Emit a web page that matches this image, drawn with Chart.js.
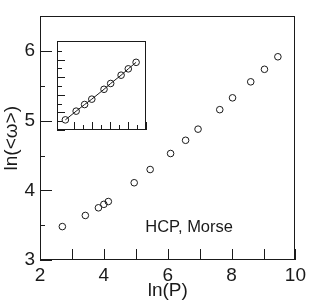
<!DOCTYPE html>
<html>
<head>
<meta charset="utf-8">
<script src="https://cdn.jsdelivr.net/npm/chart.js@4/dist/chart.umd.min.js"></script>
<style>
  html, body { margin: 0; padding: 0; background: #fff; }
  #wrap { position: relative; width: 310px; height: 308px; }
  #mainChart { position: absolute; left: 0; top: 0; }
  #insetChart { position: absolute; left: 52px; top: 36px; background: #fff; }
</style>
</head>
<body>
<div id="wrap">
  <canvas id="mainChart" width="310" height="308"></canvas>
  <canvas id="insetChart" width="99" height="99"></canvas>
</div>
<script>
// main panel: ln(<w>) vs ln(P)
const lnP = [2.70, 3.42, 3.83, 4.00, 4.14, 4.95, 5.45, 6.09, 6.56, 6.95, 7.63, 8.03, 8.60, 9.03, 9.45];
const lnW = [3.48, 3.64, 3.75, 3.80, 3.84, 4.11, 4.30, 4.53, 4.72, 4.88, 5.16, 5.33, 5.56, 5.74, 5.92];

// inset (no tick labels, arbitrary units read off the tick marks)
const insetX = [1.03, 2.23, 3.17, 3.97, 5.33, 6.07, 7.23, 8.03, 8.90];
const insetY = [1.15, 2.14, 2.89, 3.50, 4.62, 5.28, 6.22, 6.94, 7.68];

const xTitle = "ln(P)";
const yTitle = "ln(<ω>)";
const noteText = "HCP, Morse";

const FONT = "'Liberation Sans', Arial, Helvetica, sans-serif";
const INK = "#1a1a1a";

function toPoints(xs, ys) {
    let pts = [];
    for (let i = 0; i < xs.length; i++) {
        pts.push({ x: xs[i], y: ys[i] });
    }
    return pts;
}

// frame + inward ticks, drawn from the scales
function frameTicks(opts) {
    return {
        id: "frameTicks",
        afterDraw(chart) {
            const c = chart.ctx;
            const a = chart.chartArea;
            const xs = chart.scales.x;
            const ys = chart.scales.y;
            c.save();
            c.strokeStyle = INK;
            c.lineWidth = 1;
            c.strokeRect(Math.round(a.left) + 0.5, Math.round(a.top) + 0.5,
                Math.round(a.right - a.left) - 1, Math.round(a.bottom - a.top) - 1);
            c.beginPath();
            xs.ticks.forEach(t => {
                const px = Math.round(xs.getPixelForValue(t.value)) + 0.5;
                const len = opts.isMajor(t.value) ? opts.xMajor : opts.xMinor;
                c.moveTo(px, a.bottom);
                c.lineTo(px, a.bottom - len);
            });
            ys.ticks.forEach(t => {
                const py = Math.round(ys.getPixelForValue(t.value)) + 0.5;
                const len = opts.isMajor(t.value) ? opts.yMajor : opts.yMinor;
                c.moveTo(a.left, py);
                c.lineTo(a.left + len, py);
            });
            c.stroke();
            if (opts.note) {
                c.fillStyle = INK;
                c.font = "16.5px " + FONT;
                c.textAlign = "center";
                c.textBaseline = "middle";
                c.fillText(opts.note.text, xs.getPixelForValue(opts.note.x), ys.getPixelForValue(opts.note.y));
            }
            c.restore();
        }
    };
}

const mainChart = new Chart(document.getElementById("mainChart").getContext("2d"), {
    type: "scatter",
    data: {
        datasets: [{
            data: toPoints(lnP, lnW),
            pointStyle: "circle",
            pointRadius: 3.3,
            pointBorderWidth: 1,
            pointBorderColor: INK,
            pointBackgroundColor: "rgba(0,0,0,0)",
            showLine: false
        }]
    },
    options: {
        responsive: false,
        animation: false,
        events: [],
        layout: { padding: { left: 0, top: 4, right: 13, bottom: 0 } },
        plugins: { legend: { display: false }, tooltip: { enabled: false } },
        scales: {
            x: {
                type: "linear", min: 2, max: 10,
                afterFit: s => { s.height = 48; },
                grid: { display: false, drawTicks: false },
                border: { display: false },
                ticks: {
                    stepSize: 1, padding: 4, color: INK, autoSkip: false, maxRotation: 0,
                    font: { family: FONT, size: 19 },
                    callback: v => (v % 2 === 0 ? v : "")
                },
                title: { display: true, text: xTitle, color: INK, font: { family: FONT, size: 19 },
                         padding: { top: 0, bottom: 6 } }
            },
            y: {
                type: "linear", min: 3, max: 6.5,
                afterFit: s => { s.width = 40; },
                grid: { display: false, drawTicks: false },
                border: { display: false },
                ticks: {
                    stepSize: 0.5, padding: 5, color: INK, autoSkip: false,
                    font: { family: FONT, size: 19 },
                    callback: v => (Number.isInteger(v) ? v : "")
                },
                title: { display: true, text: yTitle, color: INK, font: { family: FONT, size: 19 }, padding: 0 }
            }
        }
    },
    plugins: [frameTicks({
        isMajor: v => Number.isInteger(v),
        xMajor: 11, xMinor: 4, yMajor: 12, yMinor: 5,
        note: { text: noteText, x: 6.67, y: 3.47 }
    })]
});

const insetChart = new Chart(document.getElementById("insetChart").getContext("2d"), {
    type: "scatter",
    data: {
        datasets: [{
            data: toPoints(insetX, insetY),
            showLine: true,
            borderColor: INK,
            borderWidth: 1,
            pointStyle: "circle",
            pointRadius: 3.3,
            pointBorderWidth: 1,
            pointBorderColor: INK,
            pointBackgroundColor: "rgba(0,0,0,0)"
        }]
    },
    options: {
        responsive: false,
        animation: false,
        events: [],
        layout: { padding: 0 },
        plugins: { legend: { display: false }, tooltip: { enabled: false } },
        scales: {
            x: {
                type: "linear", min: 0.1, max: 10,
                afterFit: s => { s.height = 0; },
                grid: { display: false, drawTicks: false }, border: { display: false },
                ticks: { stepSize: 1, display: false }
            },
            y: {
                type: "linear", min: 0, max: 10.1,
                afterFit: s => { s.width = 0; },
                grid: { display: false, drawTicks: false }, border: { display: false },
                ticks: { stepSize: 1, display: false }
            }
        }
    },
    plugins: [frameTicks({
        isMajor: v => Math.round(v) % 2 === 0,
        xMajor: 8, xMinor: 5, yMajor: 8, yMinor: 5
    })]
});
</script>
</body>
</html>
